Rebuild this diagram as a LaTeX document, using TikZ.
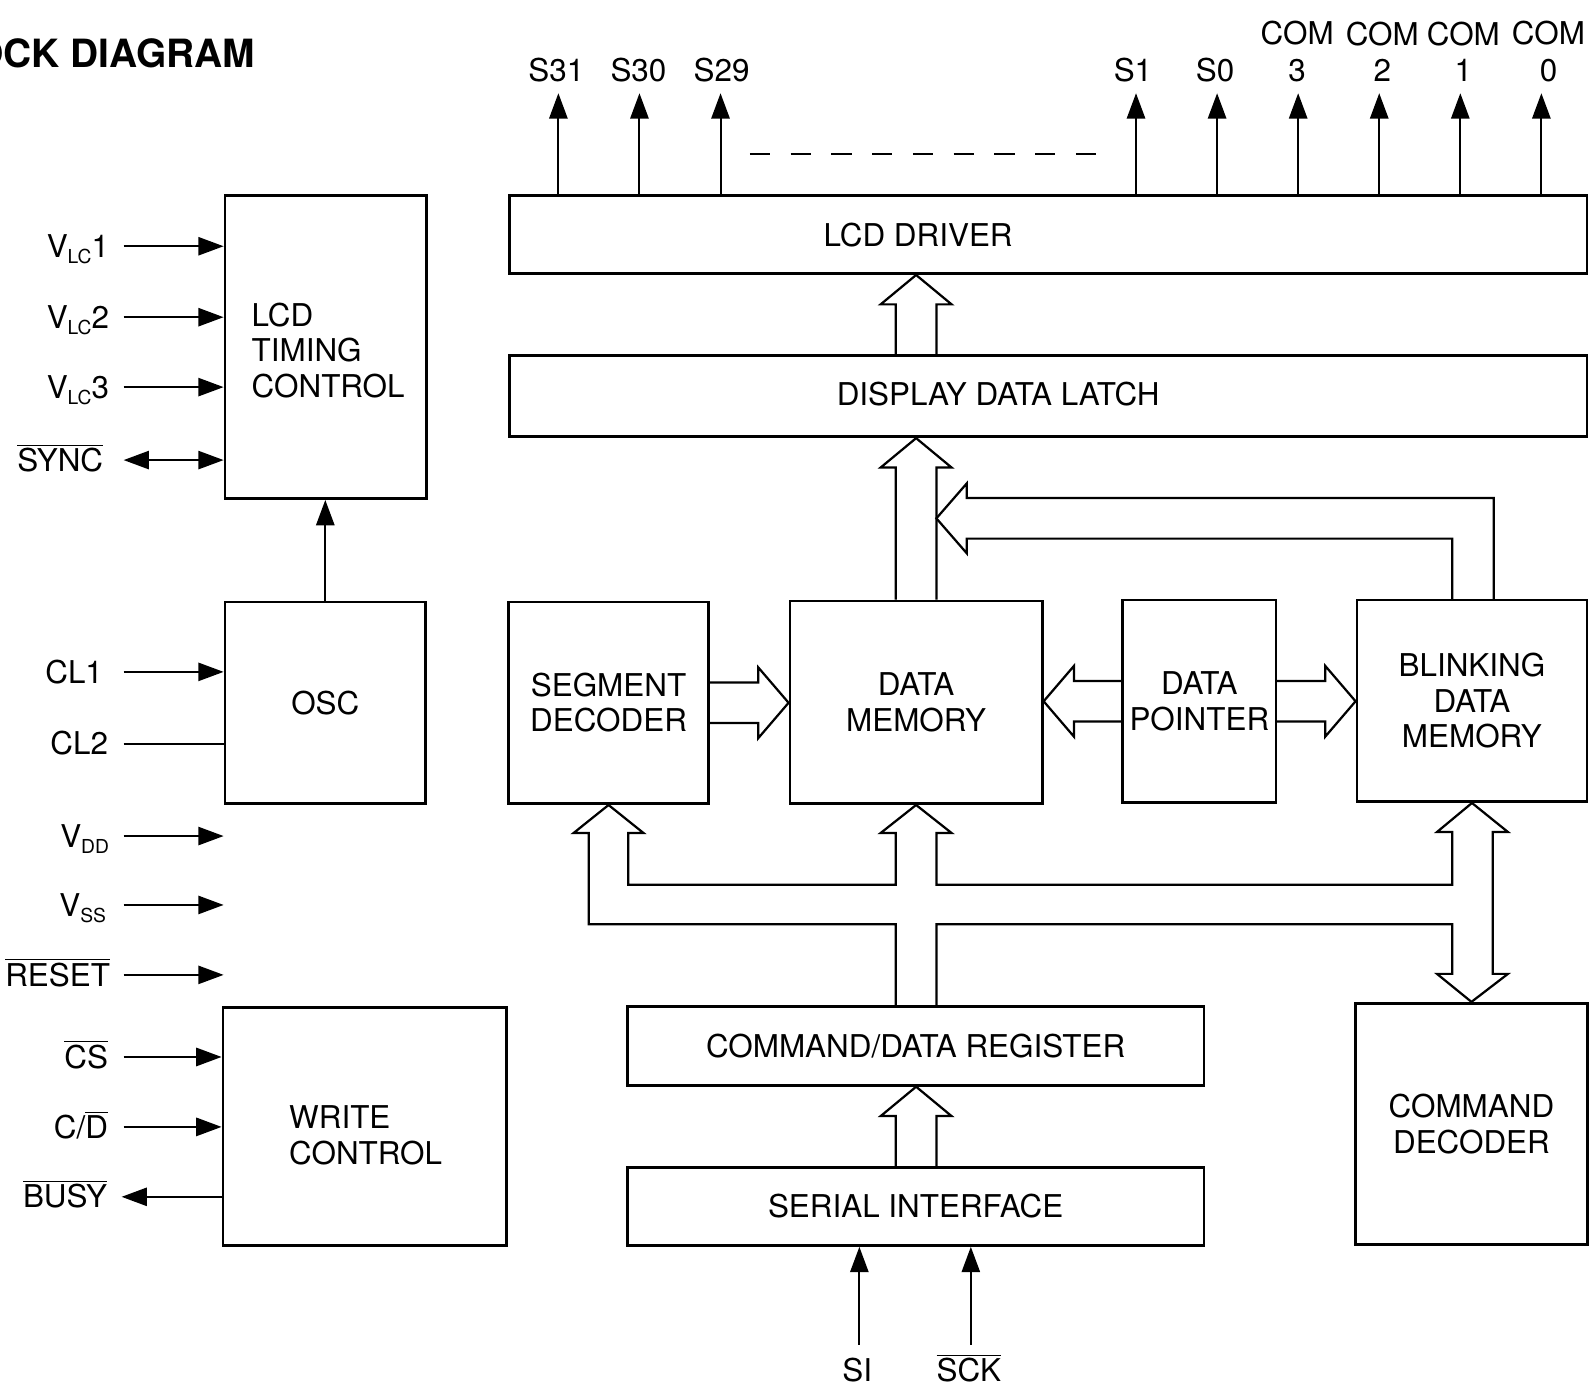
\documentclass[tikz,border=0pt]{standalone}
\usepackage{fontspec}
\setmainfont{TeX Gyre Heros}
\usetikzlibrary{arrows.meta,calc}
\newcommand\lsub[1]{\raisebox{-3pt}{\fontsize{9.5}{10}\selectfont #1}}
\newcommand\ovl[1]{$\overline{\hbox{#1}}$}
\newcommand\busup[2]{\draw[bus] ($(#1)+(-20,0)$) -- ($(#2)+(-20,29)$) -- ($(#2)+(-35,29)$) -- (#2) -- ($(#2)+(35,29)$) -- ($(#2)+(20,29)$) -- ($(#1)+(20,0)$);}
\newcommand\busright[2]{\draw[bus] ($(#1)+(0,-20)$) -- ($(#2)+(-30,-20)$) -- ($(#2)+(-30,-35)$) -- (#2) -- ($(#2)+(-30,35)$) -- ($(#2)+(-30,20)$) -- ($(#1)+(0,20)$);}
\newcommand\busleft[2]{\draw[bus] ($(#1)+(0,-20)$) -- ($(#2)+(30,-20)$) -- ($(#2)+(30,-35)$) -- (#2) -- ($(#2)+(30,35)$) -- ($(#2)+(30,20)$) -- ($(#1)+(0,20)$);}
\begin{document}
\begin{tikzpicture}[x=0.5pt,y=-0.5pt,
  font=\fontsize{15.5}{17.5}\selectfont,
  box/.style={draw,line width=1.35pt,inner sep=0pt,align=center},
  bx/.style 2 args={box,minimum width=#1*0.5pt,minimum height=#2*0.5pt},
  sig/.style={line width=1pt,-{Triangle[length=12.5pt,width=9pt]}},
  dsig/.style={line width=1pt,{Triangle[length=12.5pt,width=9pt]}-{Triangle[length=12.5pt,width=9pt]}},
  plain/.style={line width=1pt},
  bus/.style={line width=1.1pt,line join=miter},
  txt/.style={inner sep=0pt,text height=11pt,text depth=0pt},
  lbl/.style={txt,anchor=east},
]
\useasboundingbox (0,0) rectangle (1568,1369);

% title
\node[inner sep=0pt,anchor=base east,font=\fontsize{19.2}{22}\selectfont\bfseries] (title) at (252,67) {BLOCK DIAGRAM};

% boxes
\node[bx={199}{299}] (ltc) at (321.5,342.5) {};
\node[anchor=west,align=left,inner sep=0pt] (ltct) at (248,345.5) {LCD\\TIMING\\CONTROL};
\node[bx={198}{199}] (osc) at (321,693.5) {OSC};
\node[bx={280}{235}] (wc) at (360,1111.5) {};
\node[anchor=west,align=left,inner sep=0pt] (wct) at (285,1120.5) {WRITE\\CONTROL};
\node[bx={1063}{77}] (lcdd) at (1034.5,231.5) {};
\node[txt] (lcddt) at (906,232) {LCD DRIVER};
\node[bx={1063}{80}] (ddl) at (1034.5,391) {};
\node[txt] (ddlt) at (985,389) {DISPLAY DATA LATCH};
\node[bx={197}{199}] (sd) at (600.5,693.5) {SEGMENT\\DECODER};
\node[bx={249}{200}] (dm) at (904,693) {DATA\\MEMORY};
\node[bx={151}{200}] (dp) at (1183.5,692) {DATA\\POINTER};
\node[bx={227}{199}] (bdm) at (1452.5,691.5) {BLINKING\\DATA\\MEMORY};
\node[bx={569}{78}] (cdr) at (903.5,1032) {COMMAND/DATA REGISTER};
\node[bx={569}{77}] (sif) at (903.5,1190.5) {SERIAL INTERFACE};
\node[bx={229}{238}] (cd) at (1452,1109) {COMMAND\\DECODER};

% left labels
\coordinate (sx) at (122,0);
\coordinate (bxl) at (120,0);
\node[lbl] (vlc1) at (108,243) {V\lsub{LC}1};
\node[lbl] (vlc2) at (108,313) {V\lsub{LC}2};
\node[lbl] (vlc3) at (108,382) {V\lsub{LC}3};
\node[lbl] (sync) at (102,454) {\ovl{SYNC}};
\node[lbl] (cl1) at (102,663) {CL1};
\node[lbl] (cl2) at (107,734) {CL2};
\node[lbl] (vdd) at (108,825) {V\lsub{DD}};
\node[lbl] (vss) at (105,893) {V\lsub{SS}};
\node[lbl] (reset) at (109,962) {\ovl{RESET}};
\node[lbl] (cs) at (107,1043) {\ovl{CS}};
\node[lbl] (cdl) at (107,1112) {C/\ovl{D}};
\node[lbl] (busy) at (106,1181) {\ovl{BUSY}};

\draw[sig] (vlc1 -| sx) -- (vlc1 -| ltc.west);
\draw[sig] (vlc2 -| sx) -- (vlc2 -| ltc.west);
\draw[sig] (vlc3 -| sx) -- (vlc3 -| ltc.west);
\draw[dsig] (sync -| sx) -- (sync -| ltc.west);
\draw[sig] (cl1 -| sx) -- (cl1 -| osc.west);
\draw[plain] (cl2 -| sx) -- (cl2 -| osc.west);
\draw[sig] (vdd -| sx) -- (vdd -| osc.west);
\draw[sig] (vss -| sx) -- (vss -| osc.west);
\draw[sig] (reset -| sx) -- (reset -| osc.west);
\draw[sig] (cs -| sx) -- (cs -| wc.west);
\draw[sig] (cdl -| sx) -- (cdl -| wc.west);
\draw[sig] (busy -| wc.west) -- (busy -| bxl);
\draw[sig] (osc.north) -- (osc.north |- ltc.south);

% top outputs
\foreach \n/\ax/\lx/\t in {o31/551/549/S31, o30/631/630/S30, o29/711/712/S29, o1/1121/1118/S1, o0/1201/1199/S0}{
  \coordinate (\n) at (\ax,92);
  \node[txt] (l\n) at (\lx,69) {\t};
  \draw[sig] (\n |- lcdd.north) -- (\n);
}
\foreach \n/\ax/\lx/\t in {c3/1281/1280/3, c2/1361/1364/2, c1/1441/1444/1, c0/1521/1528/0}{
  \coordinate (\n) at (\ax,92);
  \node[inner sep=0pt,align=center,font=\fontsize{15.5}{18}\selectfont] (l\n) at (\lx,51) {COM\\\t};
  \draw[sig] (\n |- lcdd.north) -- (\n);
}
\coordinate (dsa) at (740,152);
\coordinate (dsb) at (1082,152);
\draw[line width=1.2pt,dash pattern=on 10pt off 10.1pt] (dsa) -- (dsb);

% serial inputs
\coordinate (sin) at (848,1327);
\coordinate (sckin) at (958,1327);
\node[txt] (sil) at (846,1352) {SI};
\node[txt] (sckl) at (956,1352) {\ovl{SCK}};
\draw[sig] (sin) -- (sin |- sif.south);
\draw[sig] (sckin) -- (sckin |- sif.south);

% hollow bus arrows
\coordinate (bx) at (904,0);
\coordinate (a1s) at (ddl.north -| bx);
\coordinate (a1t) at (lcdd.south -| bx);
\busup{a1s}{a1t}
\coordinate (a2s) at (dm.north -| bx);
\coordinate (a2t) at (ddl.south -| bx);
\busup{a2s}{a2t}
\coordinate (a3s) at (sif.north -| bx);
\coordinate (a3t) at (cdr.south -| bx);
\busup{a3s}{a3t}
\coordinate (a4t) at (sd.east -| dm.west);
\busright{sd.east}{a4t}
\coordinate (a5t) at (dp.west -| dm.east);
\busleft{dp.west}{a5t}
\coordinate (a6t) at (dp.east -| bdm.west);
\busright{dp.east}{a6t}

% blinking data memory to display latch bus
\draw[bus] (1474,592) -- (1474,491.5) -- (954,491.5) -- (954,477) -- (924,511.5) -- (954,546) -- (954,531.5) -- (1433,531.5) -- (1433,592);

% command/data register bus tree
\draw[bus] (884,993) -- (884,912) -- (581,912) -- (581,822) -- (566,822) -- (sd.south) -- (635,822) -- (620,822) -- (620,873) -- (884,873) -- (884,822) -- (869,822) -- (dm.south) -- (939,822) -- (924,822) -- (924,873) -- (1433,873) -- (1433,821) -- (1418,821) -- (bdm.south) -- (1488,821) -- (1473,821) -- (1473,961) -- (1488,961) -- (cd.north) -- (1418,961) -- (1433,961) -- (1433,912) -- (924,912) -- (924,993);
\end{tikzpicture}
\end{document}
